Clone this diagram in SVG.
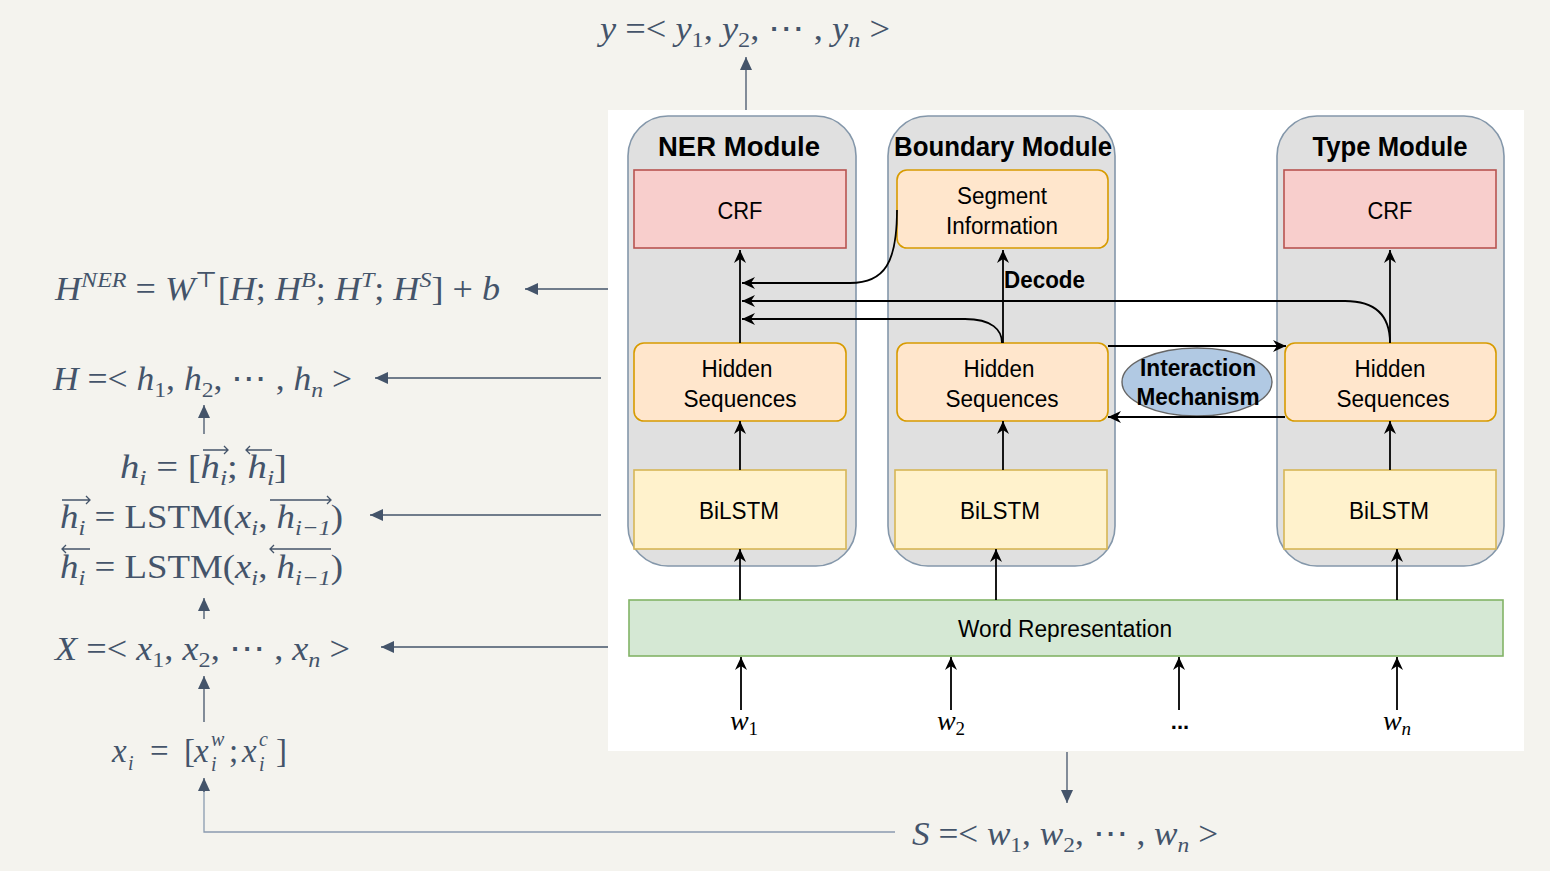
<svg xmlns="http://www.w3.org/2000/svg" width="1550" height="871" viewBox="0 0 1550 871">
<defs>
<style>
.m{font-family:"Liberation Serif","DejaVu Serif",serif;fill:#44546a;font-size:33px}
.i{font-style:italic}
.s{font-size:22px}
.ss{font-family:"Liberation Serif","DejaVu Serif",serif;fill:#44546a;font-size:20px;font-style:italic}
.lab{font-family:"Liberation Sans",Arial,sans-serif;fill:#000;font-size:23px;text-anchor:middle}
.ttl{font-family:"Liberation Sans",Arial,sans-serif;fill:#000;font-size:27px;font-weight:bold;text-anchor:middle}
.mod{fill:#e0e0e0;stroke:#8497aa;stroke-width:1.6}
.crf{fill:#f8cecc;stroke:#b85450;stroke-width:1.6}
.hid{fill:#ffe6cc;stroke:#d79b00;stroke-width:1.6}
.bil{fill:#fff2cc;stroke:#d6b656;stroke-width:1.6}
.k{fill:none;stroke:#000;stroke-width:1.8;marker-end:url(#ak)}
.g{fill:none;stroke:#44546a;stroke-width:1.3;marker-end:url(#ag)}
.ov{fill:none;stroke:#44546a;stroke-width:1.3}
.w{font-family:"Liberation Serif","DejaVu Serif",serif;font-style:italic;fill:#000;font-size:28px;text-anchor:middle}
</style>
<marker id="ak" markerUnits="userSpaceOnUse" markerWidth="14" markerHeight="14" viewBox="0 0 14 14" refX="13" refY="7" orient="auto">
<path d="M0,1 L13,7 L0,13 L4,7 z" fill="#000"/>
</marker>
<marker id="ag" markerUnits="userSpaceOnUse" markerWidth="14" markerHeight="14" viewBox="0 0 14 14" refX="13" refY="7" orient="auto">
<path d="M0,1 L13,7 L0,13 z" fill="#44546a"/>
</marker>
</defs>
<rect x="0" y="0" width="1550" height="871" fill="#f4f3ee"/>
<rect x="608" y="110" width="916" height="641" fill="#ffffff"/>

<g id="formula-y">
<text class="m" x="600" y="40" textLength="290" lengthAdjust="spacingAndGlyphs"><tspan class="i">y</tspan> =&lt; <tspan class="i">y</tspan><tspan class="s" dy="7">1</tspan><tspan dy="-7">, </tspan><tspan class="i">y</tspan><tspan class="s" dy="7">2</tspan><tspan dy="-7">, ⋯ , </tspan><tspan class="i">y</tspan><tspan class="s i" dy="7">n</tspan><tspan dy="-7"> &gt;</tspan></text>
</g>
<g id="formula-hner">
<text class="m" x="55" y="300" textLength="445" lengthAdjust="spacingAndGlyphs"><tspan class="i">H</tspan><tspan class="s i" dy="-13">NER</tspan><tspan dy="13"> = </tspan><tspan class="i">W</tspan><tspan class="s" dy="-13">⊤</tspan><tspan dy="13">[</tspan><tspan class="i">H</tspan>; <tspan class="i">H</tspan><tspan class="s i" dy="-13">B</tspan><tspan dy="13">; </tspan><tspan class="i">H</tspan><tspan class="s i" dy="-13">T</tspan><tspan dy="13">; </tspan><tspan class="i">H</tspan><tspan class="s i" dy="-13">S</tspan><tspan dy="13">] + </tspan><tspan class="i">b</tspan></text>
</g>
<g id="formula-h">
<text class="m" x="53" y="390" textLength="299" lengthAdjust="spacingAndGlyphs"><tspan class="i">H</tspan> =&lt; <tspan class="i">h</tspan><tspan class="s" dy="7">1</tspan><tspan dy="-7">, </tspan><tspan class="i">h</tspan><tspan class="s" dy="7">2</tspan><tspan dy="-7">, ⋯ , </tspan><tspan class="i">h</tspan><tspan class="s i" dy="7">n</tspan><tspan dy="-7"> &gt;</tspan></text>
</g>
<g id="formula-hi">
<text class="m" x="120" y="478" textLength="167" lengthAdjust="spacingAndGlyphs"><tspan class="i">h</tspan><tspan class="s i" dy="7">i</tspan><tspan dy="-7"> = [</tspan><tspan class="i">h</tspan><tspan class="s i" dy="7">i</tspan><tspan dy="-7">; </tspan><tspan class="i">h</tspan><tspan class="s i" dy="7">i</tspan><tspan dy="-7">]</tspan></text>
<path class="ov" d="M203,450 H228 M224,446 L228,450 L224,454 M246,450 H272 M250,446 L246,450 L250,454"/>
</g>
<g id="formula-lstm-f">
<text class="m" x="60" y="528" textLength="283" lengthAdjust="spacingAndGlyphs"><tspan class="i">h</tspan><tspan class="s i" dy="7">i</tspan><tspan dy="-7"> = LSTM(</tspan><tspan class="i">x</tspan><tspan class="s i" dy="7">i</tspan><tspan dy="-7">, </tspan><tspan class="i">h</tspan><tspan class="s i" dy="7">i−1</tspan><tspan dy="-7">)</tspan></text>
<path class="ov" d="M62,500 H90 M86,496 L90,500 L86,504 M270,500 H331 M327,496 L331,500 L327,504"/>
</g>
<g id="formula-lstm-b">
<text class="m" x="60" y="578" textLength="283" lengthAdjust="spacingAndGlyphs"><tspan class="i">h</tspan><tspan class="s i" dy="7">i</tspan><tspan dy="-7"> = LSTM(</tspan><tspan class="i">x</tspan><tspan class="s i" dy="7">i</tspan><tspan dy="-7">, </tspan><tspan class="i">h</tspan><tspan class="s i" dy="7">i−1</tspan><tspan dy="-7">)</tspan></text>
<path class="ov" d="M62,549 H90 M66,545 L62,549 L66,553 M270,549 H331 M274,545 L270,549 L274,553"/>
</g>
<g id="formula-x">
<text class="m" x="55" y="660" textLength="295" lengthAdjust="spacingAndGlyphs"><tspan class="i">X</tspan> =&lt; <tspan class="i">x</tspan><tspan class="s" dy="7">1</tspan><tspan dy="-7">, </tspan><tspan class="i">x</tspan><tspan class="s" dy="7">2</tspan><tspan dy="-7">, ⋯ , </tspan><tspan class="i">x</tspan><tspan class="s i" dy="7">n</tspan><tspan dy="-7"> &gt;</tspan></text>
</g>
<g id="formula-xi">
<text class="m i" x="112" y="762">x</text>
<text class="ss" x="128" y="770">i</text>
<text class="m" x="150" y="762">=</text>
<text class="m" x="184" y="762">[</text>
<text class="m i" x="194" y="762">x</text>
<text class="ss" x="211" y="746">w</text>
<text class="ss" x="211" y="771">i</text>
<text class="m" x="229" y="762">;</text>
<text class="m i" x="242" y="762">x</text>
<text class="ss" x="259" y="746">c</text>
<text class="ss" x="259" y="771">i</text>
<text class="m" x="276" y="762">]</text>
</g>
<g id="formula-s">
<text class="m" x="912" y="845" textLength="306" lengthAdjust="spacingAndGlyphs"><tspan class="i">S</tspan> =&lt; <tspan class="i">w</tspan><tspan class="s" dy="7">1</tspan><tspan dy="-7">, </tspan><tspan class="i">w</tspan><tspan class="s" dy="7">2</tspan><tspan dy="-7">, ⋯ , </tspan><tspan class="i">w</tspan><tspan class="s i" dy="7">n</tspan><tspan dy="-7"> &gt;</tspan></text>
</g>

<g id="ner-module">
<rect class="mod" x="628" y="116" width="228" height="450" rx="40"/>
<text class="ttl" x="739" y="156" textLength="162" lengthAdjust="spacingAndGlyphs">NER Module</text>
</g>
<g id="boundary-module">
<rect class="mod" x="888" y="116" width="227" height="450" rx="40"/>
<text class="ttl" x="1003" y="156" textLength="218" lengthAdjust="spacingAndGlyphs">Boundary Module</text>
</g>
<g id="type-module">
<rect class="mod" x="1277" y="116" width="227" height="450" rx="40"/>
<text class="ttl" x="1390" y="156" textLength="155" lengthAdjust="spacingAndGlyphs">Type Module</text>
</g>
<g id="ner-crf">
<rect class="crf" x="634" y="170" width="212" height="78"/>
<text class="lab" x="740" y="219" textLength="45" lengthAdjust="spacingAndGlyphs">CRF</text>
</g>
<g id="segment-info">
<rect class="hid" x="897" y="170" width="211" height="78" rx="10"/>
<text class="lab" x="1002" y="204" textLength="90" lengthAdjust="spacingAndGlyphs">Segment</text>
<text class="lab" x="1002" y="234" textLength="112" lengthAdjust="spacingAndGlyphs">Information</text>
</g>
<g id="type-crf">
<rect class="crf" x="1284" y="170" width="212" height="78"/>
<text class="lab" x="1390" y="219" textLength="45" lengthAdjust="spacingAndGlyphs">CRF</text>
</g>
<g id="ner-hidden">
<rect class="hid" x="634" y="343" width="212" height="78" rx="10"/>
<text class="lab" x="737" y="377" textLength="71" lengthAdjust="spacingAndGlyphs">Hidden</text>
<text class="lab" x="740" y="407" textLength="113" lengthAdjust="spacingAndGlyphs">Sequences</text>
</g>
<g id="boundary-hidden">
<rect class="hid" x="897" y="343" width="211" height="78" rx="10"/>
<text class="lab" x="999" y="377" textLength="71" lengthAdjust="spacingAndGlyphs">Hidden</text>
<text class="lab" x="1002" y="407" textLength="113" lengthAdjust="spacingAndGlyphs">Sequences</text>
</g>
<g id="type-hidden">
<rect class="hid" x="1285" y="343" width="211" height="78" rx="10"/>
<text class="lab" x="1390" y="377" textLength="71" lengthAdjust="spacingAndGlyphs">Hidden</text>
<text class="lab" x="1393" y="407" textLength="113" lengthAdjust="spacingAndGlyphs">Sequences</text>
</g>
<g id="ner-bilstm">
<rect class="bil" x="634" y="470" width="212" height="79"/>
<text class="lab" x="739" y="519" textLength="80" lengthAdjust="spacingAndGlyphs">BiLSTM</text>
</g>
<g id="boundary-bilstm">
<rect class="bil" x="895" y="470" width="212" height="79"/>
<text class="lab" x="1000" y="519" textLength="80" lengthAdjust="spacingAndGlyphs">BiLSTM</text>
</g>
<g id="type-bilstm">
<rect class="bil" x="1284" y="470" width="212" height="79"/>
<text class="lab" x="1389" y="519" textLength="80" lengthAdjust="spacingAndGlyphs">BiLSTM</text>
</g>
<g id="word-rep">
<rect x="629" y="600" width="874" height="56" fill="#d5e8d4" stroke="#82b366" stroke-width="1.6"/>
<text class="lab" x="1065" y="637" textLength="214" lengthAdjust="spacingAndGlyphs">Word Representation</text>
</g>
<g id="interaction">
<ellipse cx="1197" cy="382" rx="75" ry="34" fill="#b1c9e3" stroke="#666666" stroke-width="1.4"/>
<text class="ttl" x="1198" y="376" style="font-size:23px" textLength="116" lengthAdjust="spacingAndGlyphs">Interaction</text>
<text class="ttl" x="1198" y="405" style="font-size:23px" textLength="123" lengthAdjust="spacingAndGlyphs">Mechanism</text>
</g>
<g id="inputs">
<text class="w" x="744" y="730">w<tspan font-size="19" font-style="normal" dy="5">1</tspan></text>
<text class="w" x="951" y="730">w<tspan font-size="19" font-style="normal" dy="5">2</tspan></text>
<text x="1180" y="729" font-family="Liberation Sans,Arial,sans-serif" font-size="22" font-weight="bold" text-anchor="middle">...</text>
<text class="w" x="1397" y="730">w<tspan font-size="19" dy="5">n</tspan></text>
</g>

<g id="connectors">
<path class="g" d="M746,110 V57"/>
<path class="g" d="M608,289 H525"/>
<path class="g" d="M601,378 H375"/>
<path class="g" d="M601,515 H370"/>
<path class="g" d="M608,647 H381"/>
<path class="g" d="M204,434 V405"/>
<path class="g" d="M204,619 V598"/>
<path class="g" d="M204,722 V676"/>
<path d="M895,832 H204 V790" fill="none" stroke="#8a9bb0" stroke-width="1.3"/>
<path class="g" d="M204,792 V778"/>
<path class="g" d="M1067,752 V803"/>
<text x="1004" y="288" font-family="Liberation Sans,Arial,sans-serif" font-size="23" font-weight="bold" textLength="81" lengthAdjust="spacingAndGlyphs">Decode</text>
<path class="k" d="M740,343 V250"/>
<path class="k" d="M897,210 C897,262 885,283 850,283 H742"/>
<path class="k" d="M1390,343 C1390,318 1378,301 1345,301 H742"/>
<path class="k" d="M1002,343 C1002,330 992,319 965,319 H742"/>
<path class="k" d="M1003,343 V250"/>
<path class="k" d="M1108,346 H1286"/>
<path class="k" d="M1285,417 H1108"/>
<path class="k" d="M1390,343 V250"/>
<path class="k" d="M740,470 V421"/>
<path class="k" d="M1003,470 V421"/>
<path class="k" d="M1390,470 V421"/>
<path class="k" d="M740,600 V549"/>
<path class="k" d="M996,600 V549"/>
<path class="k" d="M1397,600 V549"/>
<path class="k" d="M741,710 V657"/>
<path class="k" d="M951,710 V657"/>
<path class="k" d="M1179,710 V657"/>
<path class="k" d="M1397,710 V657"/>
</g>
</svg>
